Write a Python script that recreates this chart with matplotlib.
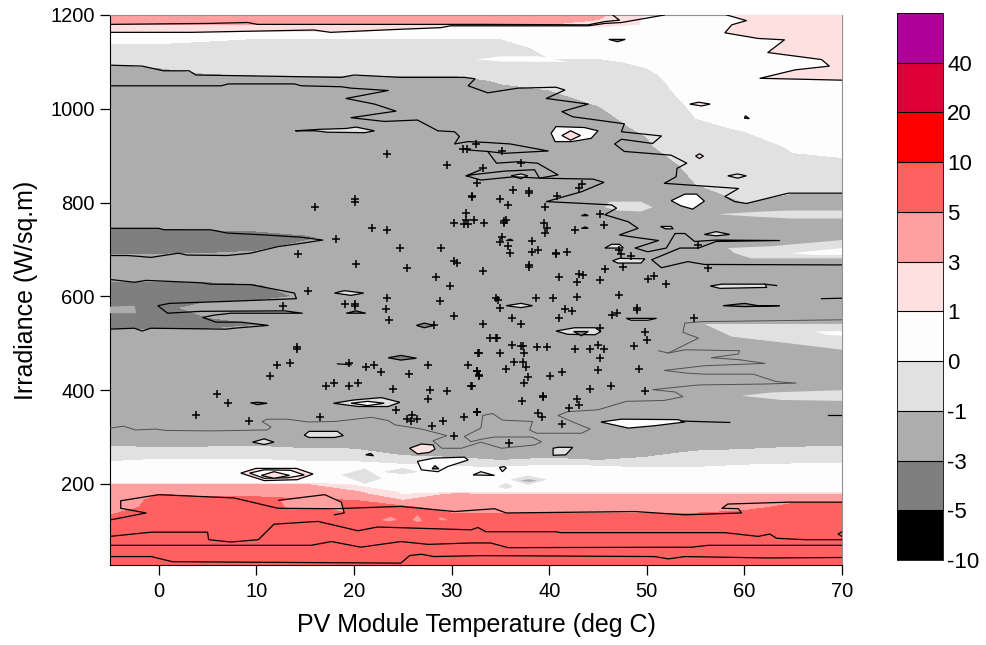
import matplotlib
matplotlib.use("Agg")
import numpy as np
import matplotlib.pyplot as plt

plt.rcParams['font.family'] = ['Liberation Sans', 'DejaVu Sans']
plt.rcParams['axes.unicode_minus'] = False

# grid of the filled map
temps = [-5, 0, 5, 10, 15, 20, 25, 30, 35, 40, 45, 50, 55, 60, 65, 70]
irrads = [27, 100, 150, 165, 178, 182, 198, 202, 225, 240, 250, 260, 280, 300,
          515, 530, 540, 555, 575, 600, 625, 640, 680, 700, 725, 745, 760, 800,
          840, 880, 920, 960, 1000, 1040, 1060, 1075, 1100, 1130, 1150, 1165,
          1175, 1180, 1200]
diff = [
    [7, 7, 7, 7, 7, 7, 7, 7, 7, 7, 7, 7, 7, 7, 7, 7],
    [8, 8, 8, 8, 8, 8, 8, 8, 8, 8, 8, 8, 8, 8, 8, 8],
    [3.5, 6, 6, 6, 6, 6, 5.5, 4, 4, 4, 4, 4, 4, 4.5, 5.5, 5.5],
    [3.6, 5.6, 5.4, 5.4, 5.2, 5, 3, 3.9, 3.8, 3.7, 3.7, 3.7, 3.7, 3.9, 4.6, 4.7],
    [3.8, 5, 4.7, 4.7, 4.3, 3.9, .8, 3.3, 3.2, 3.2, 3.2, 3.2, 3.2, 3.2, 3.2, 3.2],
    [3.7, 4.2, 4.2, 4.2, 4, 3.5, .7, .8, .8, .8, .8, .8, .8, .8, .8, .8],
    [3.2, 3.2, 3.2, 3.2, 3.2, .8, .7, .8, .7, .7, .8, .8, .8, .8, .8, .8],
    [.8, .8, .8, .8, .8, .8, .7, .8, .7, .7, .8, .8, .8, .8, .8, .8],
    [.6, .6, .6, .6, .5, .2, -.2, .3, .5, .6, .6, .3, .4, .6, .6, .6],
    [.3, .5, .5, .5, .4, .3, .1, -.1, -.2, 0, -.1, -.2, -.2, 0, .1, .1],
    [-.1, .1, .1, .1, -.1, -.1, -.5, -.8, -1, -.9, -1, -.9, -.5, -.4, -.3, -.3],
    [-.5, -.3, -.3, -.3, -.5, -.5, -1, -1.1, -1.15, -1.1, -1.15, -1.05, -.8, -.7, -.5, -.5],
    [-1, -1.1, -1.05, -1, -1.15, -1.2, -1.3, -1.3, -1.35, -1.3, -1.35, -1.3, -1.2, -1.15, -1.05, -1],
    [-1.4, -1.4, -1.4, -1.4, -1.4, -1.4, -1.4, -1.4, -1.4, -1.4, -1.4, -1.4, -1.4, -1.4, -1.4, -1.4],
    [-2.3, -2.3, -2.2, -2, -2, -2, -2, -2, -2, -2, -2, -2, -2, -2, -2, -2],
    [-3.05, -3.05, -3, -2.5, -2.2, -2, -2, -2, -2, -2, -2, -2, -2, -2, -2, -2],
    [-3.5, -3.5, -3.3, -3.1, -2.5, -2, -2, -2, -2, -2, -2, -2, -2, -2, -2, -2],
    [-3.5, -3.5, -3, -2.4, -2.3, -2, -2, -2, -2, -2, -2, -2, -2, -2, -2, -2],
    [-3.5, -3.4, -2.5, -2.5, -2.5, -2, -2, -2, -2, -2, -2, -2, -2, -2, -2, -2],
    [-3.5, -3.5, -3.5, -3.3, -2.9, -2, -2, -2, -2, -2, -2, -2, -2, -2, -2, -2],
    [-3.2, -3.2, -3.2, -3.05, -2.6, -2, -2, -2, -2, -2, -2, -2, -2, -2, -2, -2],
    [-2.7, -2.7, -2.7, -2.5, -2.2, -2, -2, -2, -2, -2, -2, -2, -2, -2, -2, -2],
    [-2.6, -2.6, -2.6, -2.5, -2.2, -2, -2, -2, -2, -2, -2, -2, -2, -2, -2, -2],
    [-3.4, -3.4, -3.3, -3.1, -2.5, -2, -2, -2, -2, -2, -2, -2, -2, -2, -2, -2],
    [-3.6, -3.6, -3.6, -3.5, -3.2, -2.5, -2, -2, -2, -2, -2, -2, -2, -2, -2, -2],
    [-3, -3, -2.9, -2.8, -2.5, -2, -2, -2, -2, -2, -2, -2, -2, -2, -2, -2],
    [-2, -2, -2, -2, -2, -2, -2, -2, -2, -2, -2, -2, -2, -2, -2, -2],
    [-2, -2, -2, -2, -2, -2, -2, -2, -2, -2, -2, -2, -1.5, -1, -1.5, -1.5],
    [-2, -2, -2, -2, -2, -2, -2, -2, -2, -2, -2, -1.6, -1, -.7, -.5, -.5],
    [-2, -2, -2, -2, -2, -2, -2, -2, -2, -2, -1.7, -1.4, -.8, -.4, -.1, -.1],
    [-2, -2, -2, -2, -2, -2, -2, -2, -2, -2, -1.4, -1.1, -.4, -.2, .05, .15],
    [-2, -2, -2, -2, -2, -2, -2, -2, -2, -1.5, -1.2, -.9, -.1, .05, .3, .4],
    [-1.8, -1.8, -1.8, -1.8, -1.8, -1.8, -1.8, -1.8, -1.5, -1.4, -1.05, -.6, .1, .3, .5, .6],
    [-1.5, -1.5, -1.5, -1.5, -1.5, -1.5, -1.5, -1.5, -1.1, -1, -.75, -.3, .3, .5, .7, .8],
    [-1.5, -1.5, -1.3, -1.2, -1.2, -1.2, -1.2, -1.2, -.95, -.7, -.6, -.2, .35, .55, .75, .85],
    [-1.4, -1.2, -1, -.95, -.95, -.95, -.95, -.95, -.9, -.5, -.4, -.1, .4, .6, .8, .9],
    [-.9, -.8, -.7, -.7, -.7, -.7, -.7, -.7, -.7, -.1, -.1, .1, .5, .7, .8, .9],
    [-.4, -.4, -.5, -.5, -.5, -.5, -.5, -.5, -.5, .3, .3, .5, .6, .8, .85, .9],
    [.5, .5, .2, 0, 0, 0, 0, 0, 0, .6, .6, .6, .6, .8, .85, .9],
    [1, 1, 1, 1, 1, 1.1, .5, .5, .5, .5, .5, .5, .5, .8, .85, .9],
    [2.3, 2.3, 2.3, 2.3, 2.3, 2.3, 1.4, .95, .9, .9, 1, .6, .6, .8, .85, .9],
    [3, 3, 3, 3, 3, 3, 3, 3, 3, 3, 2.5, .7, .6, .8, .85, .9],
    [4, 4, 4, 4, 4, 4, 4, 4, 4, 4, 3.5, .8, .8, .8, .85, .9],
]
levels = [-10, -5, -3, -1, 0, 1, 3, 5, 10, 20, 40, 100]
level_labels = ['-10', '-5', '-3', '-1', '0', '1', '3', '5', '10', '20', '40', '']
colors = ['#000000', '#7f7f7f', '#adadad', '#e1e1e1', '#fdfdfd', '#ffe0e0',
          '#ff9f9f', '#ff6060', '#ff0000', '#e00038', '#b0009a']

# measured points
point_T = [23.4, 29.5, 31.2, 31.6, 32.5, 32.6, 32.1, 32.1, 31.5, 30.2, 31.5, 31.3, 31.7, 32.3,
           16.0, 20.1, 20.1, 21.8, 23.4, 18.2, 24.7, 28.9, 30.2, 30.6, 14.3, 20.2, 25.4, 28.4, 29.8,
           15.3, 12.7, 19.1, 20.1, 20.1, 23.4, 23.3, 23.6, 28.8, 30.2, 28.2, 14.2, 14.2, 12.1, 13.4,
           11.4, 6.0, 7.1, 3.8, 9.2, 19.5, 21.2, 22.1, 22.8, 17.9, 17.1, 19.5, 20.4, 24.0, 25.6, 27.6,
           27.8, 29.5, 27.6, 24.3, 16.5, 25.9, 25.4, 25.8, 26.5, 28.0, 29.1, 30.2, 31.3, 32.6, 32.0,
           31.7, 32.6, 32.8, 32.7,
           35.2, 33.2, 37.1, 43.1, 43.4, 36.3, 37.9, 37.9, 35.0, 35.8, 40.8, 39.6, 45.2, 45.6, 33.3,
           35.4, 35.4, 35.6, 39.5, 39.8, 39.6, 42.6, 35.2, 35.0, 35.8, 36.0, 38.2, 38.2, 38.9, 40.7,
           40.7, 41.8, 55.2, 47.2, 47.4, 37.9, 37.9, 33.2, 41.0, 42.8, 43.1, 43.5, 45.2, 45.7, 47.6,
           50.1, 50.7, 52.0, 56.3, 48.4,
           34.5, 34.8, 35.0, 38.6, 40.4, 42.8, 47.2, 41.6, 42.3, 41.0, 36.2, 37.1, 33.2, 46.4, 46.9,
           49.0, 49.0, 54.8, 45.2, 49.8, 50.0, 33.9, 34.5, 34.7, 36.2, 37.1, 37.3, 37.4, 38.7, 39.8,
           32.8, 35.0, 42.6, 44.2, 45.0, 45.6, 45.2, 48.7, 36.4, 37.3, 37.6, 35.6, 32.6, 32.8, 37.8,
           37.4, 32.1, 40.1, 41.3, 45.0, 49.2, 44.2, 46.3, 49.8, 39.4, 39.4, 37.2, 42.8, 43.1, 42.0,
           32.6, 38.9, 39.3, 41.3, 35.9]
point_irr = [903, 880, 914, 914, 925, 842, 815, 812, 777, 757, 763, 754, 754, 762,
             791, 807, 802, 745, 742, 722, 703, 703, 676, 672, 691, 668, 661, 642, 623,
             612, 580, 584, 584, 580, 596, 573, 550, 589, 557, 538, 493, 487, 454, 457,
             431, 392, 373, 346, 334, 457, 450, 454, 438, 415, 408, 408, 415, 403, 435, 454,
             400, 399, 380, 357, 342, 346, 339, 335, 338, 323, 334, 303, 342, 353, 408,
             454, 441, 432, 480,
             911, 873, 884, 830, 840, 827, 825, 821, 808, 795, 815, 790, 776, 753, 757,
             760, 757, 763, 757, 746, 735, 742, 727, 715, 707, 692, 719, 695, 699, 690,
             693, 695, 710, 698, 690, 667, 663, 653, 641, 630, 648, 645, 634, 658, 662,
             638, 643, 626, 661, 685,
             596, 592, 576, 596, 596, 599, 603, 573, 569, 553, 553, 541, 541, 560, 564,
             576, 571, 553, 533, 523, 507, 511, 511, 511, 497, 494, 494, 479, 492, 492,
             480, 480, 488, 488, 497, 488, 468, 495, 461, 461, 450, 445, 441, 431, 429,
             415, 408, 431, 438, 442, 445, 403, 408, 399, 388, 385, 376, 381, 369, 361,
             353, 351, 342, 327, 288]

# contour traces, (T, irradiance)
lines_black = [
    [(-5, 1180), (5, 1182), (9.1, 1184), (10.1, 1180), (33, 1180), (44, 1179), (45.7, 1186), (47.2, 1189), (46.5, 1200)],
    [(-5, 1163), (3.3, 1163), (15.9, 1168), (17.6, 1163), (24.1, 1169), (28.9, 1173), (29.9, 1177), (44, 1177), (45.7, 1182), (47.4, 1184), (51.8, 1200)],
    [(58.2, 1200), (60.2, 1188), (58.7, 1179), (58, 1162), (61.4, 1150), (64.1, 1147), (62.4, 1120), (67.9, 1105), (68.7, 1091), (65.2, 1083), (61.6, 1065), (70, 1061)],
    [(-5, 1093), (-1.7, 1091), (.5, 1081), (3.1, 1081), (3.8, 1072), (18.7, 1067), (20, 1072), (24.8, 1067), (31.3, 1067), (32.4, 1064), (31.7, 1049),
     (33.7, 1034), (36.8, 1044), (40.7, 1046), (41.6, 1040), (39.7, 1022), (44, 1010), (41.3, 994), (42.4, 983), (47.7, 968), (47.4, 951), (51.5, 942),
     (50.6, 926), (47.4, 935), (46.7, 925), (47.7, 909), (52.5, 901), (54.1, 884), (53.1, 873), (53, 855), (51.8, 841), (59.4, 830), (58, 813), (59, 802),
     (60.2, 798), (64.5, 820), (70, 820)],
    [(-5, 1049), (6.4, 1049), (7.1, 1053), (13.9, 1053), (14.6, 1049), (18.7, 1047), (19.7, 1044), (23.5, 1039), (19.2, 1022), (22.1, 1010), (24.3, 995),
     (19.7, 981), (23.1, 973), (26.5, 976), (28.6, 953), (30.3, 951), (30.8, 941), (30.3, 925), (31.7, 930), (33.7, 928), (36, 925), (39.9, 910),
     (35.4, 905), (33.7, 909), (31.7, 912)],
    [(33.7, 909), (34.6, 884), (36.8, 887), (38.8, 884), (40.9, 859), (39, 852), (38.5, 870), (35.4, 867), (32, 859), (31.5, 857), (33, 870)],
    [(31.5, 857), (33, 848), (36.4, 855), (39, 852), (44.5, 850), (45.6, 843), (43.3, 823), (39.7, 802), (43.6, 798), (46.4, 795), (46.9, 788), (45.7, 774),
     (48.1, 759), (49.1, 745), (47.2, 731), (48.4, 727), (51.2, 719), (48.8, 703), (50.1, 695), (52, 703), (52.9, 734), (53.9, 734), (54.9, 717), (57.1, 720),
     (63.6, 719), (57.1, 717), (55.3, 703), (53.4, 703), (50.5, 678), (51.5, 661), (54.2, 674), (55.9, 668), (70, 667)],
    [(-5, 745), (0, 745), (.5, 742), (5.3, 742), (7, 735), (10.8, 731), (14.6, 726), (16.8, 720), (14.6, 713), (12.2, 706), (9.4, 692), (7, 687), (2.9, 688),
     (2, 692), (-.8, 683), (-1.9, 685), (-3.2, 687), (-5, 687)],
    [(-5, 636), (-2.5, 630), (-1.3, 634), (4.3, 629), (5.3, 626), (9.4, 625), (13.9, 607), (14.1, 595), (10.5, 592), (6.7, 589), (1.1, 585), (-.1, 580),
     (.9, 564), (4.3, 568), (12.9, 569), (14.7, 564), (7.4, 564), (5.7, 560), (4.5, 555), (5.85, 545), (8.4, 545), (11.2, 538), (7.7, 532), (6.9, 530),
     (-.8, 532), (-1.7, 526), (-2.5, 532), (-5, 530)],
    [(-5, 123), (-1.3, 138), (-3.9, 148), (-3.9, 164), (0, 177), (7.7, 170), (12.2, 148), (18, 147), (24.8, 152), (30.3, 141), (34.4, 147), (35.6, 138),
     (48.8, 141), (53.9, 134), (59.7, 138), (59.4, 147), (57.7, 148), (58.3, 157), (64.5, 161), (70, 161)],
    [(12.3, 165), (17, 177), (18.7, 161), (19, 138), (18, 134)],
    [(-5, 88), (-.8, 97), (5, 97), (5.1, 81), (7.4, 76), (10.2, 81), (11.8, 114), (16.3, 120), (20.4, 100), (22.4, 108), (32, 102), (32.7, 107), (33.5, 98),
     (40.6, 98), (41.2, 96), (58, 96), (61.4, 88), (62.6, 93), (63.3, 84), (66.2, 81), (70, 81)],
    [(70, 98), (69.6, 93), (70, 88)],
    [(-5, 69), (15.6, 69), (17.7, 77), (20.7, 65), (24.8, 77), (27.6, 71), (32, 74), (34, 74), (35.8, 64), (54.6, 65), (56.3, 69), (70, 69)],
    [(-5, 45), (-.8, 45), (1.4, 34), (24.8, 31), (25.7, 47), (26.9, 50), (28.2, 45), (33, 47), (50.8, 45), (52.2, 40), (53.9, 45), (62.4, 42), (70, 43)],
    [(53.5, 334), (58.5, 331)],
    [(62.1, 626), (63.3, 623)],
    [(67.9, 595), (70, 596)],
    [(68.6, 347), (70, 347)],
    [(18.3, 456), (19.7, 454)],
]
lines_thin = [
    [(-5, 319), (-3.6, 323), (-2.4, 315), (-.3, 317), (.7, 314), (5.3, 313), (11.1, 315), (11.5, 321), (10.6, 333), (11.1, 338), (13.2, 338), (15.3, 332),
     (18, 333), (21.8, 342), (23.5, 335), (24.2, 326), (26.9, 317), (29.5, 303), (28.1, 292), (29, 276), (31, 276), (33, 289), (35.1, 276), (38.5, 283),
     (39.2, 290), (38.2, 300), (34.4, 300), (33, 295), (32, 290), (31.3, 301), (33, 319), (33.2, 346), (34.2, 350), (35.2, 336), (38.3, 333), (38, 315),
     (38.7, 308), (43.3, 308), (44.2, 317), (42.3, 333), (40.9, 346), (41.9, 354), (45, 358), (47.9, 376), (51.8, 378), (53.7, 386), (52.9, 396), (50.6, 401),
     (55.3, 411), (62.1, 413), (65.3, 415), (63.3, 418), (60.9, 434), (55.9, 434), (54.2, 436), (51.8, 442), (55.9, 452), (62.1, 457), (59.4, 465), (56.6, 469),
     (59.4, 477), (59.5, 484), (53.9, 486), (52.2, 479), (51.2, 484)],
    [(52.2, 479), (55.3, 511), (53.7, 523), (53.9, 543), (55.6, 546), (70, 550)],
]

# small closed contours, by colour of the band they hold
patch_pink = [
    [(58.2, 1200), (60.2, 1188), (58.7, 1179), (58, 1162), (61.4, 1150), (64.1, 1147), (62.4, 1120), (67.9, 1105), (68.7, 1091), (65.2, 1083), (61.6, 1065), (70, 1061), (70, 1200)],
]
patch_lightgray = [
    [(46.2, 802), (49.4, 802), (50.6, 790), (49.4, 781), (47, 783), (45.7, 790)],
    [(57.3, 775), (61, 780), (64.5, 783), (70, 783), (70, 766), (64.8, 766), (61, 770)],
    [(58.3, 703), (62.8, 707), (70, 720), (70, 681), (60.7, 681), (59, 692)],
    [(55.9, 541), (70, 541), (70, 486), (64.5, 500), (58.7, 514)],
    [(59.7, 388), (62.8, 395), (70, 400), (70, 377), (63.8, 379)],
    [(36, 209), (37.8, 218), (39.8, 209), (37.8, 198)],
    [(34.7, 194), (35.6, 202), (36.3, 194), (35.6, 189)],
    [(18.7, 219), (21.1, 233), (22.8, 212), (21.1, 200)],
    [(17.6, 194), (19, 196), (20, 193), (19, 192)],
]
patch_white = [
    [(64.8, 692), (70, 703), (70, 688), (67, 688)],
    [(67.2, 525), (70, 526), (70, 516), (68.3, 518)],
    [(13, 152), (14.9, 159), (17.3, 152), (15, 148)],
    [(32.5, 1105), (35, 1112), (39, 1112), (42, 1100), (39, 1100), (35, 1101)],
]
patch_mid = [
    [(37, 207), (37.9, 210), (38.8, 207), (37.9, 204)],
    [(-5, 578), (-2.5, 580), (-2.3, 564), (-5, 564)],
]
patch_salmon = [
    [(12.5, 164), (17, 176), (18.7, 161), (19, 140), (17, 147), (13, 148)],
    [(22.8, 123), (23.8, 130), (24.4, 123), (23.6, 120)],
    [(26, 123), (26.5, 134), (27, 121), (26.5, 119)],
    [(28.6, 125), (28.9, 129), (29.6, 123), (29, 122)],
]
lens_pale = [
    [(14, 953), (16.3, 956), (19.2, 958), (20.2, 961), (22.1, 953), (21.1, 949), (17.3, 950), (16, 953)],
    [(58.3, 857), (59.3, 861), (60.2, 857), (59.3, 852)],
    [(36.1, 857), (37.1, 861), (37.8, 857), (37.1, 851)],
    [(45.7, 703), (46.4, 711), (47.2, 711), (47.6, 703)],
    [(51.4, 749), (52.5, 749), (52.7, 744), (51.9, 744)],
    [(55.9, 732), (57.1, 738), (58.5, 732), (57.1, 729)],
    [(46.5, 676), (47.2, 681), (49.8, 680), (49.4, 671), (47, 671)],
    [(56.5, 622), (57.7, 626), (62.1, 626), (62.3, 619), (57.5, 617)],
    [(35.6, 580), (37.1, 585), (38.3, 580), (37.1, 576)],
    [(47.9, 553), (51, 553), (50.1, 549), (48.4, 549)],
    [(40.7, 526), (42.6, 533), (44.7, 533), (45.3, 525), (44.7, 518), (41.9, 519)],
    [(18, 607), (19, 612), (21, 607), (19.7, 602)],
    [(17.9, 372), (20, 379), (22.8, 384), (24.7, 374), (23.5, 365), (20.4, 365)],
    [(14.9, 304), (15.4, 312), (18.3, 312), (18.9, 303), (18, 299), (15.4, 299)],
    [(9.6, 289), (10.8, 296), (11.8, 289), (10.8, 284)],
    [(40.4, 276), (40.9, 278), (42.4, 278), (41.7, 262), (40.4, 261)],
    [(34.9, 235), (35.4, 237), (35.6, 234), (35.2, 226)],
    [(32.2, 219), (33, 226), (34.4, 218)],
    [(43.3, 772), (43.7, 775), (44, 772)],
    [(43.3, 745), (43.7, 748), (44, 745)],
    [(35.6, 719), (36, 722), (36.3, 719)],
]
lens_white = [
    [(40.2, 948), (40.7, 962), (43.6, 960), (45, 953), (44.3, 937), (42.3, 930), (40.6, 930)],
    [(52.5, 804), (53.9, 818), (55.1, 818), (55.9, 803), (54.7, 786), (53.5, 793)],
    [(45.3, 332), (47.4, 338), (53.2, 337), (53.9, 332), (50.8, 324), (48.1, 319)],
    [(19.7, 372), (21.4, 376), (23.1, 372), (21.4, 367)],
    [(26.5, 248), (28.2, 255), (31.3, 257), (31.7, 251), (29.6, 237), (28.6, 226), (26.9, 230)],
    [(9.3, 223), (10.8, 230), (13.5, 229), (14.9, 219), (13.2, 213), (10.8, 212)],
]
lens_pink = [
    [(54.4, 1010), (55.3, 1014), (56.5, 1010), (55.6, 1006)],
    [(41.3, 943), (42.2, 953), (43.2, 943), (42.2, 933)],
    [(55, 899), (55.4, 904), (55.8, 899), (55.4, 894)],
    [(25.7, 276), (26.9, 285), (28.1, 283), (28.3, 274), (27.7, 267), (26.5, 264)],
    [(10.5, 218), (11.8, 226), (13.4, 218), (11.8, 212)],
]
lens_pink_outer = [
    [(8.4, 223), (9.95, 233), (14.1, 233), (15.8, 221), (14.2, 209), (10.8, 207)],
]
lens_dark = [
    [(57.8, 580), (60, 585), (61.4, 580), (63.6, 580), (60, 578)],
    [(19.2, 564), (20.2, 569), (21.2, 564)],
    [(26.4, 538), (27.2, 543), (28.2, 538), (27.2, 533)],
    [(23.5, 469), (24.8, 474), (26.4, 468), (24.8, 464)],
    [(9.4, 373), (10.1, 374), (11.1, 372), (10.1, 369)],
    [(42.5, 525), (44, 525), (43.3, 516)],
    [(46.1, 1148), (47.8, 1148), (47, 1143)],
    [(60.1, 985), (60.5, 979), (60, 980)],
    [(21.2, 262), (21.7, 265), (22, 260)],
    [(28, 232), (28.3, 239), (28.7, 232)],
]

fig = plt.figure(figsize=(9.86, 6.45), dpi=100)
ax = fig.add_axes([110 / 986, 80 / 645, 732 / 986, 550 / 645])

cf = ax.contourf(temps, irrads, np.array(diff), levels=levels, colors=colors)


def draw_patches(polys, face, edge=None, lw=0.9):
    for poly in polys:
        xs, ys = zip(*poly)
        ax.fill(xs, ys, facecolor=face, edgecolor=edge if edge else 'none', linewidth=lw, zorder=3)


draw_patches(patch_pink, '#ffe0e0')
draw_patches(patch_lightgray, '#e1e1e1')
draw_patches(patch_white, '#fdfdfd')
draw_patches(patch_mid, '#adadad')
draw_patches(patch_salmon, '#ff9f9f')
draw_patches(lens_pink_outer, '#ffe0e0', 'black')
draw_patches(lens_pale, '#e1e1e1', 'black')
draw_patches(lens_white, '#fdfdfd', 'black')
draw_patches(lens_pink, '#ffe0e0', 'black')
draw_patches(lens_dark, '#7f7f7f', 'black')

for trace in lines_black:
    xs, ys = zip(*trace)
    ax.plot(xs, ys, color='black', lw=0.9, zorder=4)
for trace in lines_thin:
    xs, ys = zip(*trace)
    ax.plot(xs, ys, color='#505050', lw=0.7, zorder=4)

ax.plot(point_T, point_irr, '+', color='black', ms=6, mew=1.1, zorder=5)

ax.set_xlim(-5, 70)
ax.set_ylim(27, 1200)
ax.set_xticks(range(0, 71, 10))
ax.set_yticks(range(200, 1201, 200))
ax.tick_params(length=7, width=0.9, labelsize=14.5)
ax.tick_params(axis='x', pad=5)
ax.tick_params(axis='y', pad=4)
ax.set_xlabel('PV Module Temperature (deg C)', fontsize=18, labelpad=9)
ax.set_ylabel('Irradiance (W/sq.m)', fontsize=18, labelpad=9)
ax.spines['top'].set_color('#909090')
ax.spines['right'].set_color('#909090')

cax = fig.add_axes([897 / 986, 85 / 645, 46 / 986, 547 / 645])
cbar = fig.colorbar(cf, cax=cax, spacing='uniform', ticks=levels[:-1], drawedges=True)
cbar.ax.set_yticklabels(level_labels[:-1])
cbar.ax.tick_params(length=0, labelsize=16, pad=3)
cbar.outline.set_linewidth(0.6)
cbar.dividers.set_linewidth(0.8)

fig.savefig('out.png', dpi=100)
